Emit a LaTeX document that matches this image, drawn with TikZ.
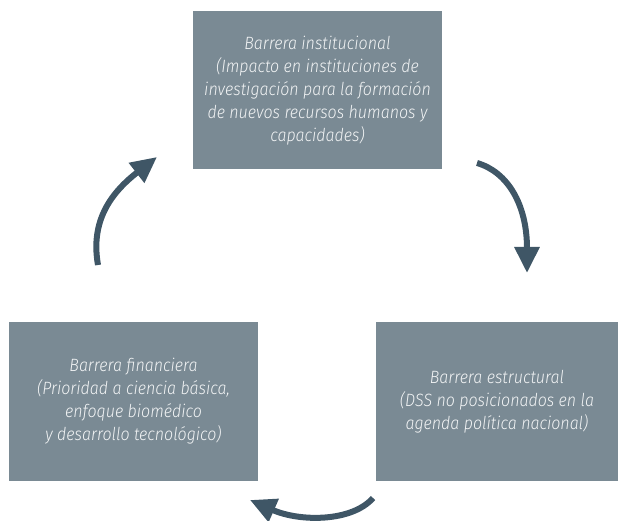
\documentclass[tikz,border=0pt]{standalone}
\usepackage{fontspec}
\setmainfont{Fira Sans}[ItalicFont={Fira Sans Light Italic}, ItalicFeatures={FakeStretch=0.9}]
\usetikzlibrary{arrows.meta}
\definecolor{boxgrey}{HTML}{7A8A94}
\definecolor{arrowcol}{HTML}{3F5666}
\definecolor{txtcol}{HTML}{F2F4F5}
\tikzset{
  barrier/.style={fill=boxgrey, draw=none, text=txtcol, align=center, inner sep=0pt,
    font=\fontsize{17.8}{23}\selectfont\itshape},
  cyclearrow/.style={draw=arrowcol, line width=6pt,
    -{Triangle[length=26pt,width=24pt]}, arrowcol}
}
\begin{document}
\begin{tikzpicture}[x=1pt,y=-1pt]
\useasboundingbox (0,0) rectangle (618,521);
\node[barrier, minimum width=249pt, minimum height=158pt] (inst) at (317.5,90.5)
  {Barrera institucional\\(Impacto en instituciones de\\investigación para la formación\\de nuevos recursos humanos y\\capacidades)};
\node[barrier, minimum width=249pt, minimum height=159pt] (fin) at (133.5,401.5)
  {Barrera financiera\\(Prioridad a ciencia básica,\\enfoque biomédico\\y desarrollo tecnológico)};
\node[barrier, minimum width=242pt, minimum height=159pt] (est) at (497,401.5)
  {Barrera estructural\\(DSS no posicionados en la\\agenda política nacional)};
\coordinate (a1s) at (98,265);
\coordinate (a1e) at (157,157);
\coordinate (a2s) at (477,163);
\coordinate (a2e) at (527,273);
\coordinate (a3s) at (373,498);
\coordinate (a3e) at (250,500);
\draw[cyclearrow] (a1s) .. controls (90,220) and (112,192) .. (a1e);
\draw[cyclearrow] (a2s) .. controls (508,172) and (527,205) .. (a2e);
\draw[cyclearrow] (a3s) .. controls (352,522) and (300,522) .. (a3e);
\end{tikzpicture}
\end{document}
